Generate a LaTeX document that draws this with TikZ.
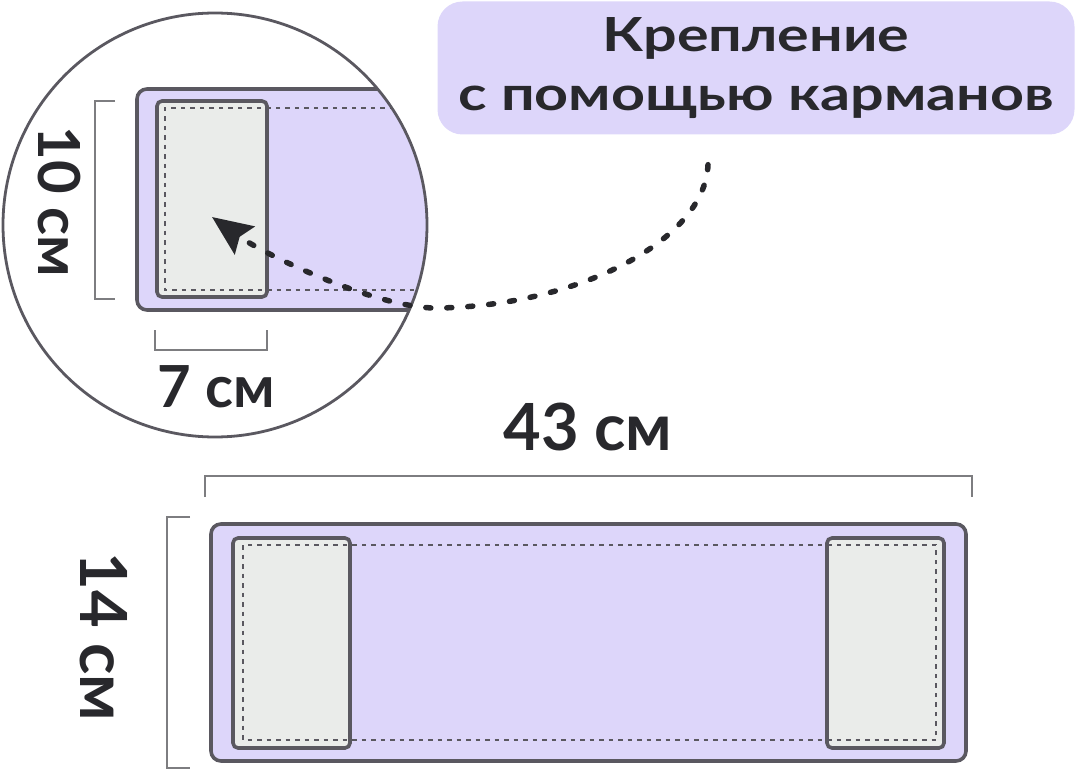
\documentclass[tikz,border=0pt]{standalone}
\usepackage{fontspec}
\setmainfont{Lato}
\usetikzlibrary{arrows.meta,positioning}
\definecolor{outline}{RGB}{90,88,96}
\definecolor{band}{RGB}{221,214,250}
\definecolor{pocketfill}{RGB}{234,236,234}
\definecolor{ink}{RGB}{40,40,44}
\definecolor{bracket}{RGB}{125,125,128}

\begin{document}
\begin{tikzpicture}[x=1pt,y=-1pt,
		edge/.style={draw=outline,line width=3.6pt,rounded corners=10pt},
		band/.style={edge,fill=band},
		pocket/.style={edge,fill=pocketfill,rounded corners=5pt},
		seam/.style={draw=outline,line width=1.8pt,dash pattern=on 4.5pt off 5pt},
		measure/.style={draw=bracket,line width=1.4pt},
		size/.style={text=ink,inner sep=0pt,font=\bfseries\fontsize{#1}{#1}\selectfont},
		size/.default=58,
		hint/.style={draw=ink,line width=5.5pt,line cap=round,dash pattern=on 5pt off 16pt}]
	\useasboundingbox (0,0) rectangle (1078,770);
	% zoomed corner of the strip
	\begin{scope}
		\clip (215,225) circle[radius=212];
		\path[band] (137,89) rectangle (470,310);
		\path[pocket] (157,101) rectangle (267,297);
		\path[seam] (470,108) -- (165,108) -- (165,290) -- (470,290);
	\end{scope}
	\node[circle,draw=outline,line width=2.8pt,minimum size=424pt,inner sep=0pt] (lens) at (215,225) {};
	\draw[measure] (115,101) -- (95,101) -- (95,299) -- (115,299);
	\node[size,rotate=-90] (tenlbl) at (59,202) {10 см};
	\draw[measure] (155,330) -- (155,350) -- (267,350) -- (267,330);
	\node[size] (sevenlbl) at (216,387) {7 см};
	% caption
	\node[fill=band,rounded corners=25pt,minimum width=637pt,minimum height=133pt,
		align=center,text=ink,font=\bfseries\fontsize{47}{59}\selectfont\addfontfeatures{FakeStretch=1.26}] (label) at (756,68)
		{Крепление\\с помощью карманов};
	\coordinate[below left=30pt and 48pt of label.south] (start);
	\coordinate (tip) at (212,217);
	\draw[hint,-{Stealth[length=40pt,width=34pt,inset=6pt]}] (start)
		.. controls (705,240) and (580,305) .. (440,308)
		.. controls (380,310) and (265,255) .. (tip);
	% whole strip
	\draw[measure] (205,497) -- (205,476) -- (972,476) -- (972,497);
	\node[size=65] (widthlbl) at (588,427) {43 см};
	\draw[measure] (190,517) -- (167,517) -- (167,768) -- (190,768);
	\node[size=65,rotate=-90] (heightlbl) at (104,637) {14 см};
	\path[band] (211,524) rectangle (966,761);
	\path[pocket] (233,538) rectangle (350,748);
	\path[pocket] (827,538) rectangle (944,748);
	\path[seam] (243,545) rectangle (936,740);
\end{tikzpicture}
\end{document}
